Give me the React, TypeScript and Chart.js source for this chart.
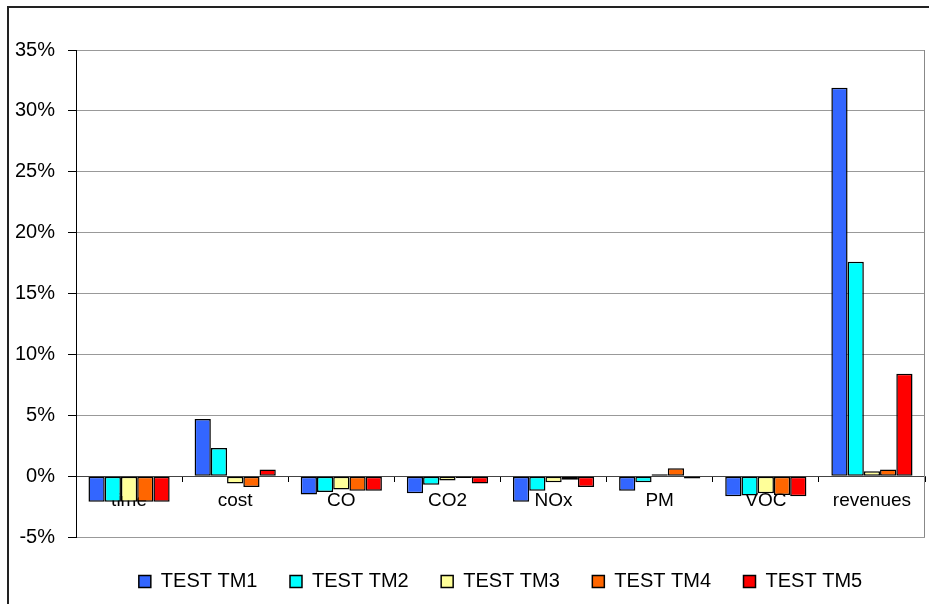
import React, { useEffect, useRef } from "react";
import { Chart, registerables } from "chart.js";

Chart.register(...registerables);

const categories = ["time", "cost", "CO", "CO2", "NOx", "PM", "VOC", "revenues"];
const seriesNames = ["TEST TM1", "TEST TM2", "TEST TM3", "TEST TM4", "TEST TM5"];
const tm1 = [-2.1, 4.7, -1.5, -1.4, -2.1, -1.2, -1.65, 31.9];
const tm2 = [-2.1, 2.3, -1.3, -0.7, -1.2, -0.5, -1.6, 17.6];
const tm3 = [-2.1, -0.6, -1.1, -0.35, -0.5, 0.15, -1.4, 0.4];
const tm4 = [-2.1, -0.9, -1.2, -0.15, -0.3, 0.65, -1.55, 0.55];
const tm5 = [-2.1, 0.55, -1.2, -0.6, -0.9, -0.2, -1.65, 8.4];
const seriesColors = ["#3366FF", "#00FFFF", "#FFFF99", "#FF6600", "#FF0000"];
const yMin = -5;
const yMax = 35;
const yStep = 5;

const FONT = "'Liberation Sans', Arial, Helvetica, sans-serif";

export default function App() {
  const ref = useRef<HTMLCanvasElement | null>(null);

  useEffect(() => {
    if (!ref.current) return;
    const values = [tm1, tm2, tm3, tm4, tm5];
    const framePlugin = {
      id: "frame",
      beforeDraw(chart: any) {
        const ctx = chart.ctx;
        ctx.save();
        ctx.fillStyle = "#fff";
        ctx.fillRect(0, 0, chart.width, chart.height);
        ctx.strokeStyle = "#222";
        ctx.lineWidth = 2;
        ctx.strokeRect(8, 7, 2000, 2000);
        ctx.restore();
      },
      beforeDatasetsDraw(chart: any) {
        const { ctx, chartArea } = chart;
        ctx.save();
        ctx.strokeStyle = "#888";
        ctx.lineWidth = 1;
        ctx.beginPath();
        ctx.moveTo(Math.round(chartArea.right) - 0.5, chartArea.top);
        ctx.lineTo(Math.round(chartArea.right) - 0.5, chartArea.bottom);
        ctx.stroke();
        ctx.restore();
      },
    };

    const options: any = {
      responsive: false,
      animation: false,
      devicePixelRatio: 1,
      layout: { padding: { left: 0, top: 50, right: 4, bottom: 0 } },
      plugins: {
        tooltip: { enabled: false },
        legend: {
          position: "bottom",
          fullSize: false,
          title: {
            display: true,
            text: "",
            padding: 0,
            font: { family: FONT, size: 2, lineHeight: 1 },
          },
          labels: {
            boxWidth: 12,
            boxHeight: 12,
            padding: 32.5,
            color: "#000",
            font: { family: FONT, size: 20 },
          },
        },
      },
      scales: {
        x: {
          position: { y: 0 },
          z: 1,
          grid: {
            drawOnChartArea: false,
            drawTicks: true,
            tickLength: 5,
            tickColor: "#000",
            offset: true,
          },
          border: { color: "#444", width: 1 },
          ticks: {
            color: "#000",
            padding: 8,
            font: { family: FONT, size: 19 },
            maxRotation: 0,
            autoSkip: false,
          },
        },
        y: {
          min: yMin,
          max: yMax,
          afterFit(scale: any) {
            scale.width = 76;
          },
          ticks: {
            stepSize: yStep,
            color: "#000",
            padding: 13,
            font: { family: FONT, size: 20 },
            callback: (v: any) => `${v}%`,
          },
          grid: {
            color: "#999",
            tickColor: "#000",
            tickLength: 8,
            drawTicks: true,
          },
          border: { color: "#000", width: 1 },
        },
      },
    };

    const chart = new Chart(ref.current, {
      type: "bar",
      data: {
        labels: categories,
        datasets: seriesNames.map((name, i) => ({
          label: name,
          data: values[i],
          backgroundColor: seriesColors[i],
          borderColor: "#000",
          borderWidth: 1.5,
          borderSkipped: false,
          categoryPercentage: 0.765,
          barPercentage: 1.0,
        })),
      },
      options,
      plugins: [framePlugin],
    });

    // keep the plot bottom (the -5% line) where the reference has it
    const targetBottom = 537;
    for (let k = 0; k < 4; k++) {
      const d = chart.chartArea.bottom - targetBottom;
      if (Math.abs(d) < 0.25) break;
      const pad = (chart.config.options as any).layout.padding;
      pad.bottom = pad.bottom + d;
      chart.update();
    }

    return () => chart.destroy();
  }, []);

  return (
    <div style={{ position: "absolute", left: 0, top: 0, width: 929, height: 604 }}>
      <canvas ref={ref} width={929} height={604} style={{ display: "block" }} />
    </div>
  );
}
